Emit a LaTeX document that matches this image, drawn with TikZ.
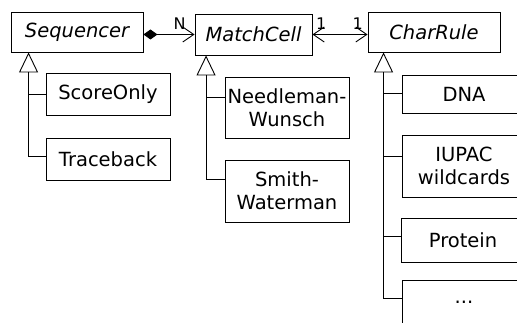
\documentclass[tikz,border=0pt]{standalone}
\usepackage{fontspec}
\setmainfont{DejaVu Sans}
\usetikzlibrary{arrows.meta}

\begin{document}
\begin{tikzpicture}[x=1pt,y=-1pt,line width=0.9pt,
  class box/.style={draw,minimum width=132pt,minimum height=40pt,inner sep=1pt,font=\fontsize{19.5}{23}\selectfont\itshape},
  sub box/.style={draw,minimum width=124pt,inner sep=1pt,align=center,font=\fontsize{19.5}{23}\selectfont},
  generalize/.style={-{Triangle[open,length=20pt,width=19pt]}},
  barb/.tip={Straight Barb[length=11pt,width=15pt]},
  multiplicity/.style={font=\fontsize{16}{16}\selectfont,inner sep=1pt}]

  \clip (0,0) rectangle (517,323);

  % base classes
  \node[class box] (seq) at (77,32) {Sequencer};
  \node[class box,minimum width=117pt,minimum height=41pt] (match) at (253.5,34.5) {MatchCell};
  \node[class box] (char) at (434,32) {CharRule};

  % subclasses
  \foreach \place/\name/\h/\txt in {(108,94)/score/42/ScoreOnly, (108,159)/trace/42/Traceback,
      (287,107.5)/nw/61/Needleman-\\Wunsch, (287,191)/sw/62/Smith-\\Waterman,
      (464,94)/dna/38/DNA, (464,166)/iupac/62/IUPAC\\wildcards,
      (463,240)/protein/44/Protein}
    \node[sub box,minimum height=\h pt] (\name) at \place {\txt};
  \node[sub box,minimum height=44pt] (etc) at (464,302) {...};

  % associations
  \draw[{Diamond[length=14pt,width=10pt]}-barb] (seq.east |- match.west) -- (match.west)
    node[multiplicity,pos=0.71,above=4pt] {N};
  \draw[barb-barb] (match.east) -- (match.east -| char.west)
    node[multiplicity,pos=0.16,above=4pt] {1}
    node[multiplicity,pos=0.82,above=4pt] {1};

  % inheritance
  \coordinate (seq trunk) at ([xshift=18pt]seq.south west);
  \draw[generalize] ([yshift=3pt]trace.west) -| (seq trunk);
  \draw (score.west) -- (score.west -| seq trunk);

  \coordinate (match trunk) at ([xshift=11.5pt]match.south west);
  \draw[generalize] ([yshift=-20pt]sw.north west) -| (match trunk);
  \draw ([yshift=-21pt]nw.north west) -- ([yshift=-21pt]nw.north west -| match trunk);

  \coordinate (char trunk) at ([xshift=16pt]char.south west);
  \draw[generalize] ([yshift=-19pt]etc.north west) -| (char trunk);
  \foreach \name/\off in {dna/19, iupac/22, protein/19}
    \draw ([yshift=-\off pt]\name.north west) -- ([yshift=-\off pt]\name.north west -| char trunk);
\end{tikzpicture}
\end{document}
